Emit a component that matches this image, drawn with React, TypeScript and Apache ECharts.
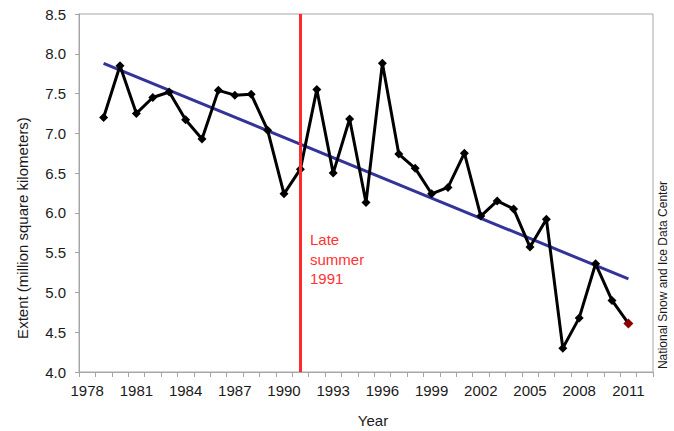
import React, { useEffect, useRef } from "react";
import * as echarts from "echarts";

const categories: string[] = [];
for (let y = 1978; y <= 2012; y++) categories.push(String(y));

const years = [
  "1979", "1980", "1981", "1982", "1983", "1984", "1985", "1986", "1987", "1988",
  "1989", "1990", "1991", "1992", "1993", "1994", "1995", "1996", "1997", "1998",
  "1999", "2000", "2001", "2002", "2003", "2004", "2005", "2006", "2007", "2008",
  "2009", "2010", "2011",
];
const extent = [
  7.2, 7.85, 7.25, 7.45, 7.52, 7.17, 6.93, 7.54, 7.48, 7.49,
  7.04, 6.24, 6.55, 7.55, 6.5, 7.18, 6.13, 7.88, 6.74, 6.56,
  6.24, 6.32, 6.75, 5.96, 6.15, 6.05, 5.57, 5.92, 4.3, 4.68,
  5.36, 4.9, 4.61,
];
const trendYears = ["1979", "2011"];
const trendValues = [7.88, 5.17];
const yTicks = { min: 4.0, max: 8.5, interval: 0.5 };

const FONT = "'Liberation Sans', Arial, sans-serif";

export default function App() {
  const ref = useRef<HTMLDivElement>(null);
  useEffect(() => {
    if (!ref.current) return;
    const chart = echarts.init(ref.current, undefined, { renderer: "svg" });
    const lineData = years.map((y, i) => {
      const item: any = { value: [y, extent[i]] };
      if (y === "2011") {
        item.itemStyle = { color: "#8b0000" };
        item.symbolSize = 10;
      }
      return item;
    });
    chart.setOption({
      animation: false,
      backgroundColor: "#ffffff",
      textStyle: { fontFamily: FONT },
      grid: {
        left: 79,
        right: 21,
        top: 14,
        bottom: 59,
        show: true,
        borderColor: "#a6a6a6",
        borderWidth: 1,
      },
      xAxis: {
        type: "category",
        data: categories,
        boundaryGap: true,
        axisLine: { lineStyle: { color: "#a6a6a6", width: 1 } },
        axisTick: { show: true, interval: 0, alignWithLabel: false, length: 5, lineStyle: { color: "#a6a6a6" } },
        axisLabel: { interval: 2, color: "#1a1a1a", fontSize: 15, margin: 11, fontFamily: FONT },
        splitLine: { show: false },
      },
      yAxis: {
        type: "value",
        min: yTicks.min,
        max: yTicks.max,
        interval: yTicks.interval,
        axisLine: { show: true, lineStyle: { color: "#a6a6a6", width: 1 } },
        axisTick: { show: true, length: 4, lineStyle: { color: "#a6a6a6" } },
        axisLabel: {
          color: "#1a1a1a",
          fontSize: 15,
          margin: 13,
          fontFamily: FONT,
          formatter: (v: number) => v.toFixed(1),
        },
        splitLine: { show: false },
      },
      series: [
        {
          type: "line",
          data: trendYears.map((y, i) => [y, trendValues[i]]),
          symbol: "none",
          lineStyle: { color: "#333399", width: 3 },
          z: 3,
        },
        {
          type: "line",
          data: lineData,
          symbol: "diamond",
          symbolSize: 9,
          lineStyle: { color: "#000000", width: 3 },
          itemStyle: { color: "#000000" },
          z: 4,
          markLine: {
            silent: true,
            symbol: "none",
            label: { show: false },
            lineStyle: { color: "#ff2a2a", width: 3, type: "solid" },
            data: [{ xAxis: "1991" }],
          },
        },
      ],
      graphic: [
        {
          type: "text",
          x: 22,
          y: 228,
          rotation: Math.PI / 2,
          style: {
            text: "Extent (million square kilometers)",
            fontSize: 15,
            fontFamily: FONT,
            fill: "#1a1a1a",
            align: "center",
            verticalAlign: "middle",
          },
        },
        {
          type: "text",
          x: 373,
          y: 420,
          style: {
            text: "Year",
            fontSize: 15,
            fontFamily: FONT,
            fill: "#1a1a1a",
            align: "center",
            verticalAlign: "middle",
          },
        },
        {
          type: "text",
          x: 310,
          y: 230,
          style: {
            text: "Late\nsummer\n1991",
            fontSize: 15,
            lineHeight: 19.5,
            fontFamily: FONT,
            fill: "#ff3333",
            align: "left",
            verticalAlign: "top",
          },
        },
        {
          type: "text",
          x: 663,
          y: 275,
          rotation: Math.PI / 2,
          style: {
            text: "National Snow and Ice Data Center",
            fontSize: 12,
            fontFamily: FONT,
            fill: "#1a1a1a",
            align: "center",
            verticalAlign: "middle",
          },
        },
      ],
    });
    return () => chart.dispose();
  }, []);
  return (
    <div
      ref={ref}
      style={{ position: "fixed", left: 0, top: 0, width: 674, height: 431 }}
    />
  );
}
